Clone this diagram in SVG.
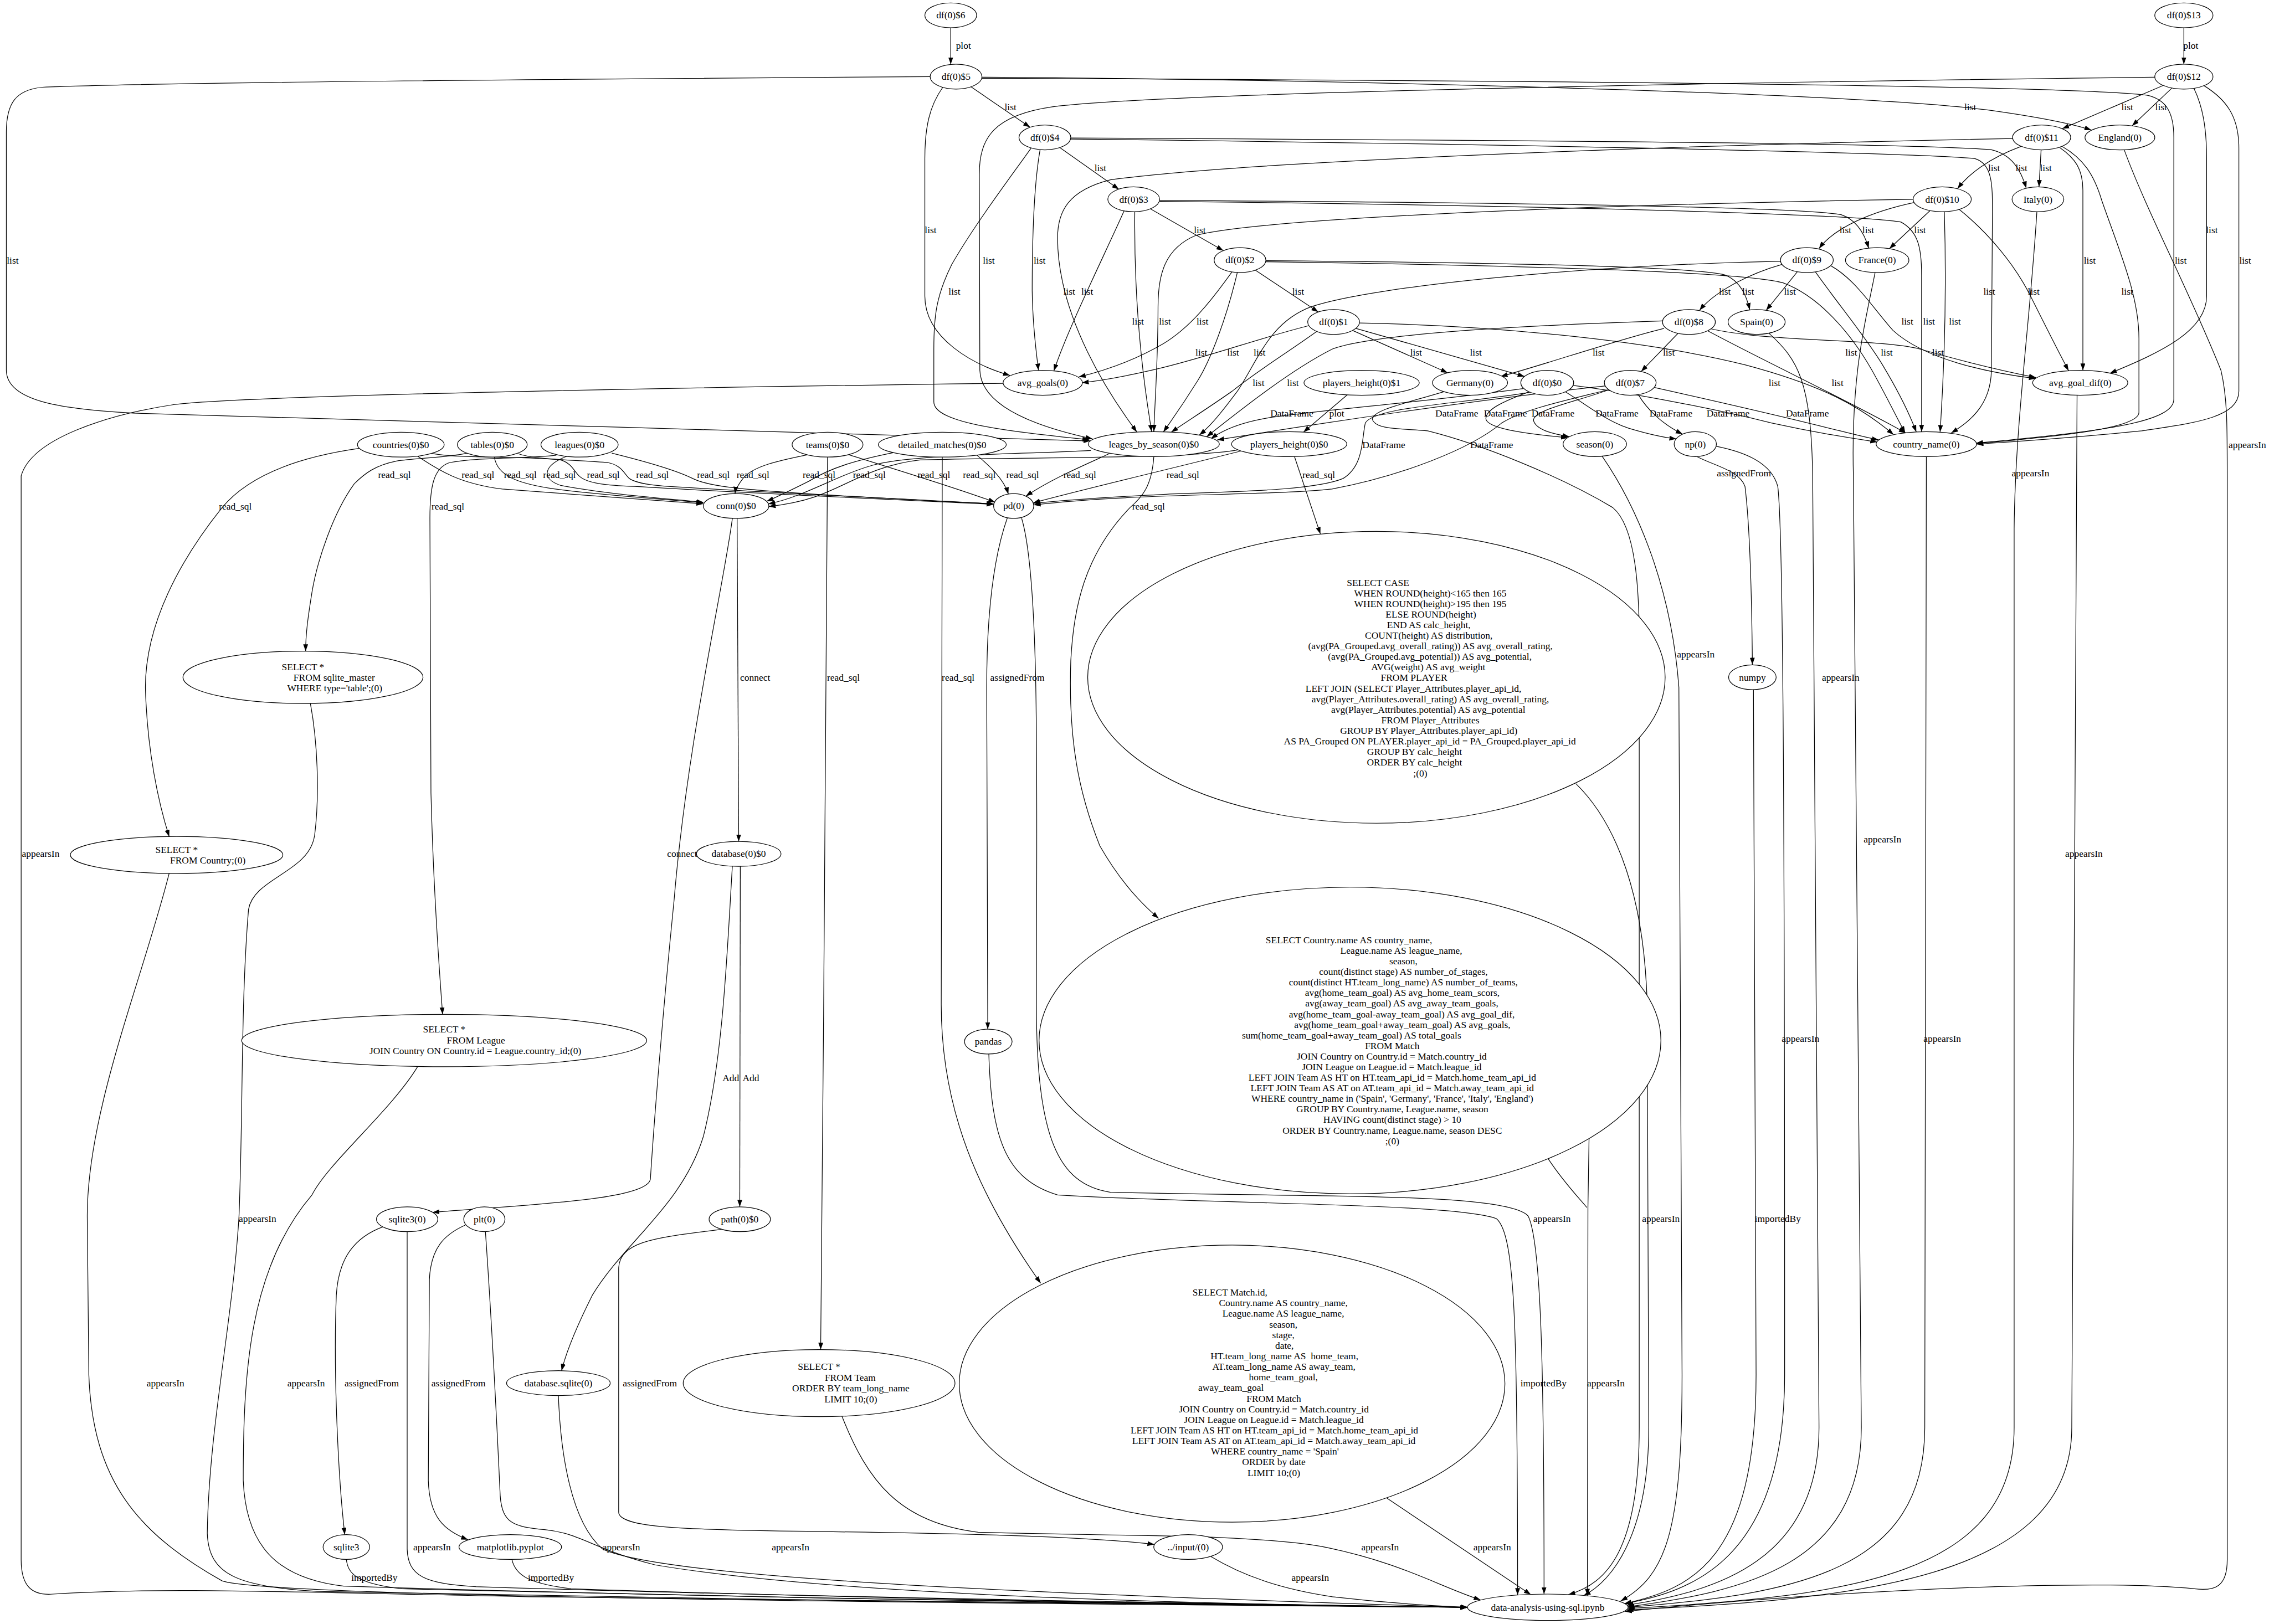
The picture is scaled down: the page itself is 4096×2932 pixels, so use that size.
<svg xmlns="http://www.w3.org/2000/svg" width="4096" height="2932" viewBox="0 0 4096 2932">
<style>
text{font-family:"Liberation Serif","Times New Roman",serif;font-size:18.3px;text-anchor:middle;fill:#000;white-space:pre}
.n ellipse{fill:#fff;stroke:#000;stroke-width:1.3}
#edges path{fill:none;stroke:#000;stroke-width:1.3;marker-end:url(#ah)}
#edges path.nm{marker-end:none}
</style>
<defs>
<marker id="ah" markerUnits="userSpaceOnUse" markerWidth="14" markerHeight="10" refX="13" refY="4.6" orient="auto"><path d="M0,0 L13,4.6 L0,9.2 z" fill="#000"/></marker>
</defs>
<rect width="4096" height="2932" fill="#fff"/>
<g transform="scale(0.95456)">
<g id="edges">
<path d="M1798,52.5 L1798,121.5"/>
<path d="M1836,164 L1948,240.7"/>
<path d="M1783,165 C1758,200 1749,240 1749,300 L1749,560 C1749,640 1840,690 1910,710"/>
<path d="M1759,145 C1300,148 300,155 80,165 C30,170 12,195 12,250 L12,700 C12,760 120,775 268,782 C700,800 1600,815 2062,834"/>
<path d="M1857,146 C2500,150 3500,175 3760,208 C3860,222 3925,236 3955,246"/>
<path d="M1857,148 C2800,152 3900,160 4060,180 C4098,188 4111,215 4111,260 L4111,755 C4111,795 4000,815 3737,838"/>
<path d="M4075,146 C3300,155 2200,175 1990,202 C1880,218 1852,260 1852,330 L1853,700 C1855,765 1950,805 2066,830"/>
<path d="M2004,279 L2116,358"/>
<path d="M1967,283 C1955,350 1952,450 1952,550 C1953,620 1960,670 1964,700.7"/>
<path d="M1950,280 C1900,350 1840,430 1800,500 C1770,560 1766,600 1766,660 L1766,760 C1766,800 1900,815 2060,832"/>
<path d="M2025,261 C2800,265 3600,270 3765,283 C3805,292 3822,322 3832,356"/>
<path d="M2025,263 C2900,273 3650,290 3735,300 C3768,310 3768,350 3768,400 L3766,700 C3765,770 3720,800 3690,819"/>
<path d="M2175.5,395 L2313.5,474"/>
<path d="M2128,394 C2090,480 2020,620 1993,701.5"/>
<path d="M2146,400.5 C2145,500 2150,650 2178,816.5"/>
<path d="M2193,379 C2900,383 3400,392 3482,406 C3512,416 3526,442 3534,469.5"/>
<path d="M2193,381 C2900,388 3500,405 3595,420 C3628,438 3634,470 3634,520 L3634,816.7"/>
<path d="M2374,511 L2493,590"/>
<path d="M2330,514 C2290,570 2250,620 2200,650 C2140,685 2085,702 2040,713"/>
<path d="M2340,515 C2320,600 2290,680 2265,720 C2240,760 2218,792 2200,817"/>
<path d="M2394,493 C2900,497 3200,505 3262,520 C3292,532 3303,560 3309,586"/>
<path d="M2394,495 C2900,502 3300,515 3372,535 C3440,560 3500,630 3540,700 C3568,750 3588,792 3603,819"/>
<path d="M2564,621 L2883,712"/>
<path d="M2558,625 L2737.6,705"/>
<path d="M2475,616 C2380,640 2300,670 2200,695 C2130,712 2080,720 2046,724"/>
<path d="M2490,627 C2430,670 2380,700 2330,740 C2280,775 2240,800 2215,817.5"/>
<path d="M2571,611 C2800,615 3100,640 3300,690 C3450,730 3520,770 3581,822"/>
<path d="M2880,735 C2700,760 2500,775 2400,790 C2340,800 2310,815 2290,830"/>
<path d="M2892,741 C2840,760 2810,775 2810,792 C2812,812 2900,822 2965,828"/>
<path d="M2960,741 C3000,765 3035,795 3080,810 C3120,822 3150,828 3170,830"/>
<path d="M2893,742 C2750,765 2600,770 2582,800 C2575,830 2580,880 2540,905 C2480,930 2300,930 2200,935 C2100,940 2020,945 1955,952"/>
<path d="M2975,729 C3100,745 3250,775 3350,800 C3450,822 3510,830 3550,836"/>
<path d="M3035,730 C2800,755 2500,800 2302,832"/>
<path d="M3042,737 C2950,760 2880,775 2840,800 C2780,850 2650,900 2519,925 C2400,938 2150,932 1955,955"/>
<path d="M3040,738 C2980,760 2900,775 2900,795 C2905,815 2945,822 2968,826"/>
<path d="M3098,746 C3115,775 3145,803 3182,821"/>
<path d="M3129,733 C3250,760 3400,795 3480,815 C3520,825 3540,830 3553,832"/>
<path d="M4091,161.6 L3900,243.4"/>
<path d="M4107.5,166.4 L4032,238"/>
<path d="M4149,167 C4165,200 4173,240 4173,300 L4173,560 C4173,625 4090,665 3990,706"/>
<path d="M4168,162 C4210,188 4234,220 4234,280 L4234,740 C4234,790 4150,800 4050,815 C3900,830 3800,836 3738,840"/>
<path d="M3822,277 C3760,300 3722,330 3702,357"/>
<path d="M3860,283.5 L3856,353.5"/>
<path d="M3895,279 C3925,300 3939,320 3939,360 L3939,700.5"/>
<path d="M3900,277 C3940,300 3960,330 3975,380 C4010,480 4045,560 4045,640 L4045,780 C4045,810 3900,825 3737,839"/>
<path d="M3806,262 C3300,272 2400,300 2100,340 C2020,360 2000,400 2000,450 C2000,600 2100,750 2150,817"/>
<path d="M3620,383 C3540,400 3470,430 3440,470"/>
<path d="M3650,398.4 L3573,470.3"/>
<path d="M3705,396 C3760,440 3810,500 3840,560 C3870,620 3895,670 3912,701"/>
<path d="M3677,400.5 C3680,500 3680,650 3669,817"/>
<path d="M3618,377 C3100,385 2400,410 2262,445 C2202,470 2190,520 2190,580 C2190,680 2184,760 2182,816.5"/>
<path d="M3370,500 C3300,520 3240,555 3214,587"/>
<path d="M3399,514 L3340,587"/>
<path d="M3463,503 C3510,530 3540,580 3580,625 C3640,680 3760,705 3850,716"/>
<path d="M3433,514 C3480,580 3530,640 3560,690 C3590,740 3612,785 3624,817"/>
<path d="M3368,494 C3000,502 2600,540 2480,580 C2400,610 2380,680 2340,740 C2310,780 2290,805 2268,823"/>
<path d="M3173.4,630.4 L3103.6,702.6"/>
<path d="M3147,621 C3050,645 2920,690 2838,712"/>
<path d="M3236,622 C3350,648 3550,640 3630,660 C3700,680 3780,700 3850,714"/>
<path d="M3230,626 C3350,690 3500,760 3604,819"/>
<path d="M3144,607 C2900,615 2600,630 2520,660 C2440,700 2340,780 2282,826"/>
<path d="M4130,52.5 L4130,121.5"/>
<path d="M2548,746.7 L2465,817.3"/>
<path d="M2448,863.5 L2497,1010"/>
<path d="M2347,853 C2200,890 2050,925 1954,951"/>
<path d="M2340,851 C2250,868 1900,865 1740,870 C1650,880 1600,920 1540,940 C1510,950 1480,955 1454,958"/>
<path d="M680,848 C560,865 470,900 420,960 C340,1060 275,1180 275,1300 C278,1420 300,1520 320,1582.5"/>
<path d="M884,857 C840,866 790,866 750,872 C710,880 690,895 670,915 C630,970 600,1060 590,1120 C582,1170 578,1200 578,1231.6"/>
<path d="M1052,861 C990,868 900,865 850,875 C820,885 813,920 813,980 L815,1500 C820,1700 832,1850 837,1918.5"/>
<path d="M790,863 C830,890 870,915 950,925 C1100,937 1250,946 1330,953"/>
<path d="M935,864.5 C940,900 980,915 1050,925 C1150,938 1270,945 1330,951"/>
<path d="M1072,863 C1028,880 1022,905 1060,918 C1150,935 1270,944 1330,950"/>
<path d="M815,857 C860,868 1000,862 1060,870 C1080,875 1085,890 1095,900 C1110,915 1150,918 1200,920 C1450,935 1700,945 1879,954"/>
<path d="M980,858 C1010,870 1100,870 1150,875 C1175,880 1180,895 1190,905 C1210,918 1260,920 1300,922 C1500,935 1750,945 1879,953"/>
<path d="M1157,857 C1230,875 1280,890 1310,905 C1340,920 1400,925 1500,932 C1650,942 1780,948 1879,953"/>
<path d="M1528,860 C1480,870 1425,880 1405,905 C1395,918 1391,926 1390,933.5"/>
<path d="M1605,860 C1700,890 1800,920 1882,950"/>
<path d="M1565,864.5 C1562,1200 1558,2000 1552,2552.5"/>
<path d="M1690,856 C1620,870 1570,885 1530,910 C1500,925 1470,940 1450,948"/>
<path d="M1847,860.5 C1870,880 1898,905 1907,934.5"/>
<path d="M1782,864.5 L1780,1900 C1780,2100 1850,2260 1968,2427"/>
<path d="M2063,852 C1900,860 1720,860 1650,880 C1580,900 1520,940 1453,953"/>
<path d="M2098,858 C2050,880 1990,905 1940,938.5"/>
<path d="M2182,864 C2178,920 2160,940 2137,960 C2050,1050 2030,1150 2025,1250 C2020,1400 2040,1500 2080,1600 C2120,1670 2160,1710 2191,1737"/>
<path d="M1905,979.5 C1880,1050 1866,1150 1866,1300 L1868,1946.5"/>
<path d="M1385,980.5 C1370,1100 1300,1400 1275,1700 C1250,1950 1235,2150 1230,2230 C1225,2270 1000,2278 818,2293"/>
<path d="M1394,980.5 L1397,1591.5"/>
<path d="M1385,1638 C1375,1800 1368,2000 1330,2150 C1290,2280 1180,2350 1120,2450 C1090,2510 1070,2560 1062,2592.5"/>
<path d="M1400,1638.5 L1399,2282.5"/>
<path d="M1365,2325 C1250,2340 1170,2345 1170,2400 L1170,2860 C1170,2890 1300,2893 1500,2896 C1800,2900 2050,2905 2183,2921"/>
<path d="M725,2320 C670,2340 640,2380 636,2450 C630,2600 640,2800 652,2902.5"/>
<path d="M770,2329.5 L770,2930 C772,2980 800,2995 900,3001 C1500,3020 2400,3035 2775,3040"/>
<path d="M880,2317 C840,2335 815,2360 812,2420 L810,2800 C812,2870 840,2895 885,2912"/>
<path d="M918,2329.5 C930,2500 940,2700 946,2830 C950,2880 970,2888 1030,2893 C1100,2900 1120,2930 1240,2960 C1600,3020 2300,3035 2775,3040"/>
<path d="M655,2949.5 C658,2975 672,2995 760,3005 C1400,3022 2300,3036 2776,3040"/>
<path d="M968,2949.5 C975,2980 1000,2995 1080,3005 C1600,3022 2300,3036 2776,3040"/>
<path d="M1056,2639.5 C1060,2750 1080,2880 1140,2930 C1250,2980 1800,3010 2776,3040"/>
<path d="M1592,2678 C1640,2800 1700,2880 1850,2898 C2100,2906 2350,2900 2500,2925 C2650,2955 2720,3000 2800,3026"/>
<path d="M2622,2833 L2895,3016"/>
<path d="M2290,2944 C2350,2980 2420,3005 2520,3020 C2650,3035 2730,3038 2775,3040"/>
<path d="M1897,725 C1500,730 500,745 330,765 C200,785 60,830 40,900 L40,2950 C40,3000 60,3018 100,3015 C300,3002 500,3010 1000,3020 C1800,3030 2400,3038 2775,3040"/>
<path d="M320,1651.5 C270,1850 165,2100 165,2300 L168,2600 C175,2800 260,2900 420,2990 C500,3018 1500,3030 2775,3040"/>
<path d="M587,1330.5 C600,1400 605,1500 595,1580 C585,1650 480,1660 470,1720 C455,1900 460,2100 452,2300 C440,2500 395,2700 392,2900 C395,2980 450,3000 600,3010 C1200,3025 2200,3035 2775,3040"/>
<path d="M790,2017 C740,2100 620,2200 590,2260 C470,2400 460,2600 460,2800 C465,2920 520,2985 650,3000 C1300,3020 2200,3035 2775,3040"/>
<path d="M2980,1482 C3060,1560 3110,1700 3115,1900 L3118,2700 C3118,2900 3050,2990 2995,3017.6"/>
<path class="nm" d="M2928,2192 C2960,2240 2990,2270 3001,2284"/>
<path d="M1932,980 C1968,1100 1960,1500 1960,1900 C1960,2150 2000,2240 2100,2255 C2500,2265 2850,2255 2890,2300 C2915,2350 2920,2600 2920,3015"/>
<path d="M1870,1993.5 C1875,2150 1900,2230 2000,2260 C2300,2278 2750,2275 2830,2305 C2865,2335 2870,2500 2870,3016.8"/>
<path d="M3030,863 C3090,950 3160,1100 3175,1300 L3181,2600 C3181,2900 3150,2980 3065,3028"/>
<path d="M3245,844 C3300,855 3350,875 3362,920 C3372,1000 3375,1500 3375,2600 C3375,2950 3200,3010 3072,3033"/>
<path d="M3316,1304.5 L3321,2600 C3321,2950 3200,3005 3072,3033"/>
<path d="M3345,630 C3400,680 3425,720 3428,900 L3440,2700 C3440,2950 3250,3010 3076,3036"/>
<path d="M3546,515.5 C3530,600 3500,700 3505,900 L3520,2700 C3520,2960 3300,3010 3078,3039"/>
<path d="M3643,863.5 L3640,2700 C3640,2970 3400,3015 3078,3040"/>
<path d="M3852,400.5 C3840,600 3811,800 3809,1000 L3809,2700 C3809,2980 3500,3020 3078,3042"/>
<path d="M3928,747.5 L3918,2700 C3918,2990 3500,3025 3076,3045"/>
<path d="M4017,283 C4060,400 4140,550 4200,700 C4212,750 4212,800 4212,900 L4212,2950 C4212,3000 4190,3010 4150,3005 C4000,2990 3700,3000 3400,3020 C3250,3030 3150,3040 3073,3048"/>
<path d="M2730,741 C2650,765 2600,775 2595,792 C2600,815 2660,810 2700,815 C2800,840 2950,900 3050,960 C3110,1010 3100,1200 3100,1400 L3100,2700 C3100,2930 3040,2995 2966,3016"/>
<text x="1822" y="92">plot</text>
<text x="4143" y="92">plot</text>
<text x="2528" y="788">plot</text>
<text x="1911" y="208">list</text>
<text x="1760" y="441">list</text>
<text x="24" y="499">list</text>
<text x="3726" y="208">list</text>
<text x="4124" y="499">list</text>
<text x="1870" y="499">list</text>
<text x="2081" y="324">list</text>
<text x="1966" y="499">list</text>
<text x="1805" y="557">list</text>
<text x="3823" y="324">list</text>
<text x="3762" y="557">list</text>
<text x="2269" y="441">list</text>
<text x="2056" y="557">list</text>
<text x="2152" y="614">list</text>
<text x="3533" y="441">list</text>
<text x="3648" y="614">list</text>
<text x="2455" y="557">list</text>
<text x="2274" y="614">list</text>
<text x="2272" y="673">list</text>
<text x="3306" y="557">list</text>
<text x="3501" y="673">list</text>
<text x="2791" y="673">list</text>
<text x="2678" y="673">list</text>
<text x="2332" y="673">list</text>
<text x="2380" y="730">list</text>
<text x="3356" y="730">list</text>
<text x="4023" y="208">list</text>
<text x="4087" y="208">list</text>
<text x="4183" y="441">list</text>
<text x="4246" y="499">list</text>
<text x="3771" y="324">list</text>
<text x="3869" y="324">list</text>
<text x="3952" y="499">list</text>
<text x="4023" y="557">list</text>
<text x="2022" y="557">list</text>
<text x="3490" y="441">list</text>
<text x="3631" y="441">list</text>
<text x="3846" y="557">list</text>
<text x="3697" y="614">list</text>
<text x="2203" y="614">list</text>
<text x="3262" y="557">list</text>
<text x="3385" y="557">list</text>
<text x="3607" y="614">list</text>
<text x="3568" y="673">list</text>
<text x="2382" y="673">list</text>
<text x="3156" y="673">list</text>
<text x="3023" y="673">list</text>
<text x="3665" y="673">list</text>
<text x="3475" y="730">list</text>
<text x="2445" y="730">list</text>
<text x="2443" y="788">DataFrame</text>
<text x="2847" y="788">DataFrame</text>
<text x="3058" y="788">DataFrame</text>
<text x="2617" y="847">DataFrame</text>
<text x="3268" y="788">DataFrame</text>
<text x="2755" y="788">DataFrame</text>
<text x="2821" y="847">DataFrame</text>
<text x="2937" y="788">DataFrame</text>
<text x="3160" y="788">DataFrame</text>
<text x="3418" y="788">DataFrame</text>
<text x="2494" y="904">read_sql</text>
<text x="2237" y="904">read_sql</text>
<text x="1852" y="904">read_sql</text>
<text x="445" y="964">read_sql</text>
<text x="746" y="904">read_sql</text>
<text x="847" y="964">read_sql</text>
<text x="904" y="904">read_sql</text>
<text x="984" y="904">read_sql</text>
<text x="1058" y="904">read_sql</text>
<text x="1141" y="904">read_sql</text>
<text x="1234" y="904">read_sql</text>
<text x="1349" y="904">read_sql</text>
<text x="1424" y="904">read_sql</text>
<text x="1766" y="904">read_sql</text>
<text x="1595" y="1287">read_sql</text>
<text x="1549" y="904">read_sql</text>
<text x="1934" y="904">read_sql</text>
<text x="1812" y="1287">read_sql</text>
<text x="1644" y="904">read_sql</text>
<text x="2042" y="904">read_sql</text>
<text x="2172" y="964">read_sql</text>
<text x="1924" y="1287">assignedFrom</text>
<text x="1290" y="1621">connect</text>
<text x="1428" y="1287">connect</text>
<text x="1382" y="2045">Add</text>
<text x="1420" y="2045">Add</text>
<text x="1229" y="2622">assignedFrom</text>
<text x="703" y="2622">assignedFrom</text>
<text x="867" y="2622">assignedFrom</text>
<text x="817" y="2932">appearsIn</text>
<text x="1175" y="2932">appearsIn</text>
<text x="708" y="2990">importedBy</text>
<text x="1042" y="2990">importedBy</text>
<text x="1495" y="2932">appearsIn</text>
<text x="2610" y="2932">appearsIn</text>
<text x="2822" y="2932">appearsIn</text>
<text x="2478" y="2990">appearsIn</text>
<text x="77" y="1621">appearsIn</text>
<text x="313" y="2622">appearsIn</text>
<text x="487" y="2311">appearsIn</text>
<text x="579" y="2622">appearsIn</text>
<text x="3141" y="2311">appearsIn</text>
<text x="3037" y="2622">appearsIn</text>
<text x="2935" y="2311">appearsIn</text>
<text x="2919" y="2622">importedBy</text>
<text x="3207" y="1243">appearsIn</text>
<text x="3298" y="901">assignedFrom</text>
<text x="3405" y="1971">appearsIn</text>
<text x="3362" y="2311">importedBy</text>
<text x="3481" y="1287">appearsIn</text>
<text x="3560" y="1593">appearsIn</text>
<text x="3673" y="1971">appearsIn</text>
<text x="3840" y="901">appearsIn</text>
<text x="3941" y="1621">appearsIn</text>
<text x="4250" y="847">appearsIn</text>
</g>
<path d="M3007,2035 L3003,2284 L3002,3018" fill="none" stroke="#000" stroke-width="1.3" marker-end="url(#ah)"/>
<path d="M3210,864 C3240,880 3290,890 3300,920 C3310,1000 3313,1150 3314,1257" fill="none" stroke="#000" stroke-width="1.3" marker-end="url(#ah)"/>
<g class="n" id="n-df6"><ellipse cx="1798" cy="29" rx="49" ry="23.5"/><text x="1798" y="35">df(0)$6</text></g>
<g class="n" id="n-df5"><ellipse cx="1808" cy="145" rx="49" ry="23.5"/><text x="1808" y="151">df(0)$5</text></g>
<g class="n" id="n-df4"><ellipse cx="1976" cy="260" rx="49" ry="23.5"/><text x="1976" y="266">df(0)$4</text></g>
<g class="n" id="n-df3"><ellipse cx="2144" cy="377" rx="49" ry="23.5"/><text x="2144" y="383">df(0)$3</text></g>
<g class="n" id="n-df2"><ellipse cx="2345" cy="492" rx="49" ry="23.5"/><text x="2345" y="498">df(0)$2</text></g>
<g class="n" id="n-df1"><ellipse cx="2522" cy="609" rx="49" ry="23.5"/><text x="2522" y="615">df(0)$1</text></g>
<g class="n" id="n-df0"><ellipse cx="2926" cy="724" rx="50" ry="23.5"/><text x="2926" y="730">df(0)$0</text></g>
<g class="n" id="n-df13"><ellipse cx="4130" cy="29" rx="55" ry="23.5"/><text x="4130" y="35">df(0)$13</text></g>
<g class="n" id="n-df12"><ellipse cx="4130" cy="145" rx="55" ry="23.5"/><text x="4130" y="151">df(0)$12</text></g>
<g class="n" id="n-df11"><ellipse cx="3861" cy="260" rx="55" ry="23.5"/><text x="3861" y="266">df(0)$11</text></g>
<g class="n" id="n-df10"><ellipse cx="3673" cy="377" rx="55" ry="23.5"/><text x="3673" y="383">df(0)$10</text></g>
<g class="n" id="n-df9"><ellipse cx="3417" cy="492" rx="50" ry="23.5"/><text x="3417" y="498">df(0)$9</text></g>
<g class="n" id="n-df8"><ellipse cx="3194" cy="609" rx="50" ry="23.5"/><text x="3194" y="615">df(0)$8</text></g>
<g class="n" id="n-df7"><ellipse cx="3083" cy="724" rx="49" ry="23.5"/><text x="3083" y="730">df(0)$7</text></g>
<g class="n" id="n-england"><ellipse cx="4009" cy="260" rx="66" ry="23.5"/><text x="4009" y="266">England(0)</text></g>
<g class="n" id="n-italy"><ellipse cx="3854" cy="377" rx="49" ry="23.5"/><text x="3854" y="383">Italy(0)</text></g>
<g class="n" id="n-france"><ellipse cx="3550" cy="492" rx="60" ry="23.5"/><text x="3550" y="498">France(0)</text></g>
<g class="n" id="n-spain"><ellipse cx="3322" cy="609" rx="54" ry="23.5"/><text x="3322" y="615">Spain(0)</text></g>
<g class="n" id="n-germany"><ellipse cx="2780" cy="724" rx="71" ry="23.5"/><text x="2780" y="730">Germany(0)</text></g>
<g class="n" id="n-avg_goals"><ellipse cx="1972" cy="724" rx="75" ry="23.5"/><text x="1972" y="730">avg_goals(0)</text></g>
<g class="n" id="n-ph1"><ellipse cx="2575" cy="724" rx="109" ry="23.5"/><text x="2575" y="730">players_height(0)$1</text></g>
<g class="n" id="n-avg_goal_dif"><ellipse cx="3934" cy="724" rx="90" ry="23.5"/><text x="3934" y="730">avg_goal_dif(0)</text></g>
<g class="n" id="n-leages"><ellipse cx="2182" cy="840" rx="124" ry="23.5"/><text x="2182" y="846">leages_by_season(0)$0</text></g>
<g class="n" id="n-ph0"><ellipse cx="2438" cy="840" rx="109" ry="23.5"/><text x="2438" y="846">players_height(0)$0</text></g>
<g class="n" id="n-detailed"><ellipse cx="1782" cy="841" rx="121" ry="23.5"/><text x="1782" y="847">detailed_matches(0)$0</text></g>
<g class="n" id="n-teams"><ellipse cx="1565" cy="841" rx="67" ry="23.5"/><text x="1565" y="847">teams(0)$0</text></g>
<g class="n" id="n-countries"><ellipse cx="758" cy="841" rx="82" ry="23.5"/><text x="758" y="847">countries(0)$0</text></g>
<g class="n" id="n-tables"><ellipse cx="931" cy="841" rx="66" ry="23.5"/><text x="931" y="847">tables(0)$0</text></g>
<g class="n" id="n-leagues"><ellipse cx="1096" cy="841" rx="73" ry="23.5"/><text x="1096" y="847">leagues(0)$0</text></g>
<g class="n" id="n-season"><ellipse cx="3016" cy="840" rx="60" ry="23.5"/><text x="3016" y="846">season(0)</text></g>
<g class="n" id="n-np"><ellipse cx="3206" cy="840" rx="40" ry="23.5"/><text x="3206" y="846">np(0)</text></g>
<g class="n" id="n-country_name"><ellipse cx="3643" cy="840" rx="95" ry="23.5"/><text x="3643" y="846">country_name(0)</text></g>
<g class="n" id="n-conn"><ellipse cx="1392" cy="957" rx="62" ry="23.5"/><text x="1392" y="963">conn(0)$0</text></g>
<g class="n" id="n-pd"><ellipse cx="1917" cy="957" rx="38" ry="23.5"/><text x="1917" y="963">pd(0)</text></g>
<g class="n" id="n-sql-master"><ellipse cx="573" cy="1281" rx="227" ry="49.5"/><text x="573" y="1268">SELECT *</text><text x="632" y="1288">FROM sqlite_master</text><text x="633" y="1307">WHERE type='table';(0)</text></g>
<g class="n" id="n-sql-height"><ellipse cx="2603" cy="1281" rx="546" ry="276"/>
<text x="2606" y="1108">SELECT CASE</text>
<text x="2705" y="1128">WHEN ROUND(height)&lt;165 then 165</text>
<text x="2705" y="1148">WHEN ROUND(height)&gt;195 then 195</text>
<text x="2706" y="1168">ELSE ROUND(height)</text>
<text x="2702" y="1188">END AS calc_height,</text>
<text x="2702" y="1208">COUNT(height) AS distribution,</text>
<text x="2705" y="1228">(avg(PA_Grouped.avg_overall_rating)) AS avg_overall_rating,</text>
<text x="2704" y="1248">(avg(PA_Grouped.avg_potential)) AS avg_potential,</text>
<text x="2701" y="1268">AVG(weight) AS avg_weight</text>
<text x="2674" y="1288">FROM PLAYER</text>
<text x="2673" y="1308">LEFT JOIN (SELECT Player_Attributes.player_api_id,</text>
<text x="2705" y="1328">avg(Player_Attributes.overall_rating) AS avg_overall_rating,</text>
<text x="2701" y="1348">avg(Player_Attributes.potential) AS avg_potential</text>
<text x="2705" y="1368">FROM Player_Attributes</text>
<text x="2702" y="1388">GROUP BY Player_Attributes.player_api_id)</text>
<text x="2704" y="1408">AS PA_Grouped ON PLAYER.player_api_id = PA_Grouped.player_api_id</text>
<text x="2675" y="1428">GROUP BY calc_height</text>
<text x="2675" y="1448">ORDER BY calc_height</text>
<text x="2686" y="1469">;(0)</text>
</g>
<g class="n" id="n-numpy"><ellipse cx="3314" cy="1281" rx="45" ry="23.5"/><text x="3314" y="1287">numpy</text></g>
<g class="n" id="n-sql-country"><ellipse cx="334" cy="1617" rx="201" ry="35"/><text x="334" y="1613">SELECT *</text><text x="393" y="1633">FROM Country;(0)</text></g>
<g class="n" id="n-database"><ellipse cx="1397" cy="1615" rx="80" ry="23.5"/><text x="1397" y="1621">database(0)$0</text></g>
<g class="n" id="n-pandas"><ellipse cx="1869" cy="1970" rx="45" ry="23.5"/><text x="1869" y="1976">pandas</text></g>
<g class="n" id="n-sql-league"><ellipse cx="840" cy="1968" rx="383" ry="49.5"/><text x="840" y="1953">SELECT *</text><text x="900" y="1974">FROM League</text><text x="899" y="1994">JOIN Country ON Country.id = League.country_id;(0)</text></g>
<g class="n" id="n-sql-leagues"><ellipse cx="2553" cy="1968" rx="588" ry="290"/>
<text x="2551" y="1784">SELECT Country.name AS country_name,</text>
<text x="2650" y="1804">League.name AS league_name,</text>
<text x="2654" y="1824">season,</text>
<text x="2654" y="1844">count(distinct stage) AS number_of_stages,</text>
<text x="2654" y="1864">count(distinct HT.team_long_name) AS number_of_teams,</text>
<text x="2652" y="1884">avg(home_team_goal) AS avg_home_team_scors,</text>
<text x="2651" y="1904">avg(away_team_goal) AS avg_away_team_goals,</text>
<text x="2651" y="1924">avg(home_team_goal-away_team_goal) AS avg_goal_dif,</text>
<text x="2652" y="1944">avg(home_team_goal+away_team_goal) AS avg_goals,</text>
<text x="2556" y="1964">sum(home_team_goal+away_team_goal) AS total_goals</text>
<text x="2633" y="1984">FROM Match</text>
<text x="2632" y="2004">JOIN Country on Country.id = Match.country_id</text>
<text x="2632" y="2024">JOIN League on League.id = Match.league_id</text>
<text x="2633" y="2044">LEFT JOIN Team AS HT on HT.team_api_id = Match.home_team_api_id</text>
<text x="2633" y="2064">LEFT JOIN Team AS AT on AT.team_api_id = Match.away_team_api_id</text>
<text x="2633" y="2084">WHERE country_name in ('Spain', 'Germany', 'France', 'Italy', 'England')</text>
<text x="2633" y="2104">GROUP BY Country.name, League.name, season</text>
<text x="2633" y="2124">HAVING count(distinct stage) &gt; 10</text>
<text x="2633" y="2144">ORDER BY Country.name, League.name, season DESC</text>
<text x="2633" y="2164">;(0)</text>
</g>
<g class="n" id="n-sqlite3_0"><ellipse cx="770" cy="2306" rx="58" ry="23.5"/><text x="770" y="2312">sqlite3(0)</text></g>
<g class="n" id="n-plt"><ellipse cx="916" cy="2306" rx="39" ry="23.5"/><text x="916" y="2312">plt(0)</text></g>
<g class="n" id="n-path"><ellipse cx="1399" cy="2306" rx="58" ry="23.5"/><text x="1399" y="2312">path(0)$0</text></g>
<g class="n" id="n-sql-team"><ellipse cx="1549" cy="2616" rx="257" ry="63.5"/><text x="1549" y="2591">SELECT *</text><text x="1608" y="2612">FROM Team</text><text x="1609" y="2632">ORDER BY team_long_name</text><text x="1609" y="2653">LIMIT 10;(0)</text></g>
<g class="n" id="n-dbsqlite"><ellipse cx="1056" cy="2616" rx="98" ry="23.5"/><text x="1056" y="2622">database.sqlite(0)</text></g>
<g class="n" id="n-sql-match"><ellipse cx="2330" cy="2617" rx="516" ry="262"/>
<text x="2326" y="2450">SELECT Match.id,</text>
<text x="2427" y="2470">Country.name AS country_name,</text>
<text x="2427" y="2490">League.name AS league_name,</text>
<text x="2427" y="2511">season,</text>
<text x="2427" y="2531">stage,</text>
<text x="2429" y="2551">date,</text>
<text x="2429" y="2571">HT.team_long_name AS  home_team,</text>
<text x="2428" y="2591">AT.team_long_name AS away_team,</text>
<text x="2427" y="2611">home_team_goal,</text>
<text x="2328" y="2631">away_team_goal</text>
<text x="2409" y="2651">FROM Match</text>
<text x="2409" y="2671">JOIN Country on Country.id = Match.country_id</text>
<text x="2409" y="2691">JOIN League on League.id = Match.league_id</text>
<text x="2410" y="2711">LEFT JOIN Team AS HT on HT.team_api_id = Match.home_team_api_id</text>
<text x="2409" y="2731">LEFT JOIN Team AS AT on AT.team_api_id = Match.away_team_api_id</text>
<text x="2411" y="2751">WHERE country_name = 'Spain'</text>
<text x="2409" y="2771">ORDER by date</text>
<text x="2409" y="2792">LIMIT 10;(0)</text>
</g>
<g class="n" id="n-sqlite3"><ellipse cx="655" cy="2926" rx="44" ry="23.5"/><text x="655" y="2932">sqlite3</text></g>
<g class="n" id="n-mpl"><ellipse cx="965" cy="2926" rx="97" ry="23.5"/><text x="965" y="2932">matplotlib.pyplot</text></g>
<g class="n" id="n-input"><ellipse cx="2247" cy="2926" rx="65" ry="23.5"/><text x="2247" y="2932">../input/(0)</text></g>
<g class="n" id="n-notebook"><ellipse cx="2927" cy="3040" rx="152" ry="25"/><text x="2927" y="3046">data-analysis-using-sql.ipynb</text></g>
</g>
</svg>
